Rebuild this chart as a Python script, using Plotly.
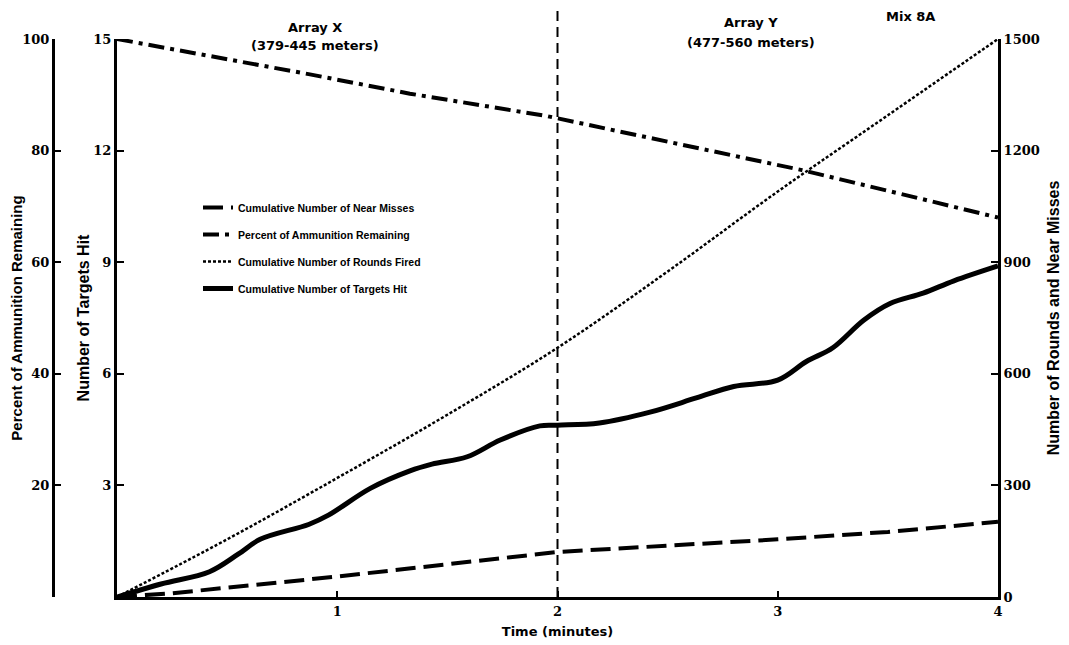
import plotly.graph_objects as go

# ---------------- data ----------------
time_near = [0, 0.25, 0.5, 1, 1.5, 2, 2.5, 3, 3.5, 4]
near_misses = [0, 10, 25, 55, 88, 121, 138, 155, 175, 202]

time_ammo = [0, 0.42, 0.87, 1.33, 1.95, 2.5, 3.11, 3.5, 4]
ammo_pct = [100, 97, 93.7, 90.2, 86.2, 81.6, 76.5, 72.8, 68]

time_rounds = [0, 0.5, 1, 1.5, 2, 2.5, 3, 3.5, 4]
rounds_fired = [0, 155, 320, 490, 670, 875, 1090, 1295, 1500]

time_targets = [0, 0.2, 0.42, 0.55, 0.65, 0.87, 0.96, 1.15, 1.33, 1.43, 1.59,
                1.74, 1.92, 2.0, 2.19, 2.42, 2.63, 2.8, 3.0, 3.13, 3.25, 3.39,
                3.51, 3.66, 3.8, 4.0]
targets_hit = [0, 0.35, 0.68, 1.15, 1.55, 1.95, 2.2, 2.92, 3.39, 3.57, 3.77,
               4.22, 4.6, 4.62, 4.68, 4.97, 5.35, 5.66, 5.83, 6.33, 6.7, 7.44,
               7.89, 8.17, 8.5, 8.9]

x_ticks = [1, 2, 3, 4]
pct_ticks = [20, 40, 60, 80, 100]
target_ticks = [3, 6, 9, 12, 15]
rounds_ticks = [0, 300, 600, 900, 1200, 1500]

legend_names = ["Cumulative Number of Near Misses",
                "Percent of Ammunition Remaining",
                "Cumulative Number of Rounds Fired",
                "Cumulative Number of Targets Hit"]

# ---------------- layout geometry ----------------
# the page body adds an 8px offset, margins compensate for it
W, H = 1069, 645
ML, MR, MT, MB = 22, 79, 31, 56
PW, PH = W - ML - MR, H - MT - MB
OFF = 8


def px_x(px):
    return (px - OFF - ML) / PW


def px_y(py):
    return (H - MB - (py - OFF)) / PH


SERIF = "DejaVu Serif"
SANS = "Liberation Sans"
WIDE = "DejaVu Sans"

fig = go.Figure()
fig.add_trace(go.Scatter(x=time_near, y=near_misses, yaxis="y3", mode="lines",
                         name=legend_names[0], legendgroup="g1",
                         line=dict(color="black", width=4, dash="20px,8px")))
fig.add_trace(go.Scatter(x=time_ammo, y=ammo_pct, yaxis="y2", mode="lines",
                         name=legend_names[1], legendgroup="g2",
                         line=dict(color="black", width=4, dash="16px,6px,4px,6px")))
fig.add_trace(go.Scatter(x=time_rounds, y=rounds_fired, yaxis="y3", mode="lines",
                         name=legend_names[2], legendgroup="g3", line_shape="spline",
                         line=dict(color="black", width=2.5, dash="3px,2px")))
fig.add_trace(go.Scatter(x=time_targets, y=targets_hit, yaxis="y", mode="lines",
                         name=legend_names[3], legendgroup="g4", line_shape="spline",
                         line=dict(color="black", width=5)))

tickfont = dict(family=SERIF, size=13, color="black", weight="bold")


def tfont(size, family=SANS):
    return dict(family=family, size=size, color="black", weight="bold")


common = dict(showline=True, linewidth=3, linecolor="black", ticks="inside",
              tickwidth=2, tickcolor="black", showgrid=False, zeroline=False,
              tickfont=tickfont, automargin=False)

fig.update_layout(
    width=W, height=H,
    margin=dict(l=ML, r=MR, t=MT, b=MB, autoexpand=False),
    paper_bgcolor="white", plot_bgcolor="white",
    showlegend=True,
    legend=dict(x=px_x(198), y=px_y(193), xanchor="left", yanchor="top",
                bgcolor="rgba(0,0,0,0)", tracegroupgap=8,
                font=dict(family=SANS, size=10.5, color="black", weight="bold")),
    xaxis=dict(domain=[px_x(117), 1], range=[0, 4], tickvals=x_ticks, ticklen=6,
               title=dict(text="Time (minutes)", font=tfont(13, WIDE), standoff=10),
               **common),
    yaxis=dict(range=[0, 15], tickvals=target_ticks, anchor="x", side="left", ticklen=7,
               title=dict(text="Number of Targets Hit", font=tfont(16), standoff=0),
               **common),
    yaxis2=dict(range=[0, 100], tickvals=pct_ticks, anchor="free",
                position=px_x(53), overlaying="y", side="left", ticklen=6,
                title=dict(text="Percent of Ammunition Remaining", font=tfont(15), standoff=2),
                **common),
    yaxis3=dict(range=[0, 1500], tickvals=rounds_ticks, anchor="x",
                overlaying="y", side="right", ticklen=7,
                title=dict(text="Number of Rounds and Near Misses", font=tfont(16), standoff=10),
                **common),
)

# vertical divider between the two arrays at t = 2 min
fig.add_shape(type="line", xref="x", yref="paper", x0=2, x1=2, y0=0, y1=px_y(8),
              line=dict(color="black", width=2, dash="10px,6px"))

for text, ax_px, ay_px in [("Array X", 315, 27), ("(379-445 meters)", 315, 46),
                           ("Array Y", 751, 22), ("(477-560 meters)", 751, 42),
                           ("Mix 8A", 910, 17)]:
    fig.add_annotation(text=text, xref="paper", yref="paper", x=px_x(ax_px), y=px_y(ay_px),
                       showarrow=False, xanchor="center", yanchor="middle",
                       font=tfont(13, WIDE))

fig.write_html("out.html")
